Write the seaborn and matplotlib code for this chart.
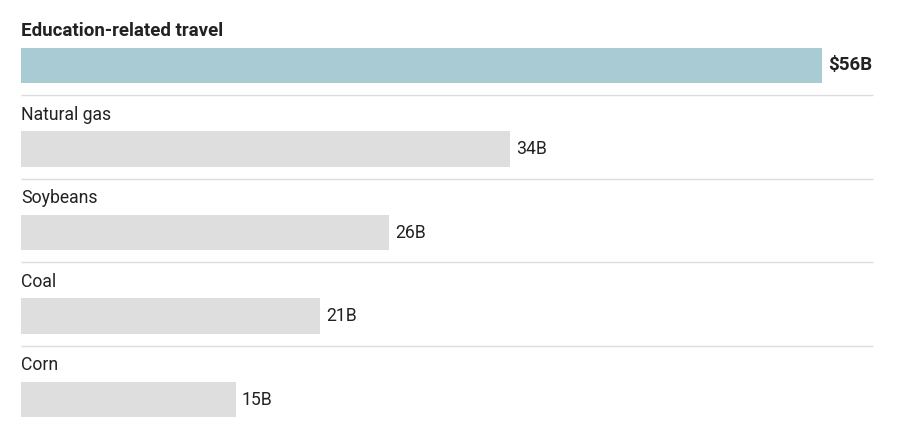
import numpy as np
import pandas as pd
import matplotlib
matplotlib.use("Agg")
import matplotlib.pyplot as plt
import seaborn as sns

# Data
categories = ['Education-related travel', 'Natural gas', 'Soybeans', 'Coal', 'Corn']
values = [56.0, 34.2, 25.7, 20.9, 15.0]
value_labels = ['$56B', '34B', '26B', '21B', '15B']
highlight = 'Education-related travel'

sns.set_style('white')
plt.rcParams['font.family'] = ['Roboto', 'DejaVu Sans']

df = pd.DataFrame({'category': categories, 'value': values})
palette = {c: ('#a9cbd4' if c == highlight else '#dedede') for c in categories}

fig = plt.figure(figsize=(9.08, 4.23), dpi=100)
ax = fig.add_axes([0, 0, 1, 1])

sns.barplot(data=df, x='value', y='category', hue='category', palette=palette,
            order=categories, width=0.42, dodge=False, legend=False, ax=ax,
            saturation=1, linewidth=0)

# map pixels: bars start at x=21px, 56 ends at x=822px
px = 56 / 801
ax.set_xlim(-21 * px, (908 - 21) * px)
pitch = 83.5
ax.set_ylim((423 - 65.5) / pitch, -65.5 / pitch)

for i, (cat, val, lab) in enumerate(zip(categories, values, value_labels)):
    bold = cat == highlight
    ax.text(0, i - 0.41, cat, ha='left', va='center',
            fontsize=13.5 if bold else 12.7,
            fontweight='bold' if bold else 'normal', color='#222222')
    ax.annotate(lab, xy=(val, i), xytext=(4.5, 0), textcoords='offset points',
                ha='left', va='center', fontsize=13.5 if bold else 12.7,
                fontweight='bold' if bold else 'normal', color='#222222')
    if i < len(categories) - 1:
        ax.hlines(i + 0.355, 0, 852 * px, color='#dcdcdc', linewidth=1)

ax.set_axis_off()
fig.savefig('out.png', dpi=100)
